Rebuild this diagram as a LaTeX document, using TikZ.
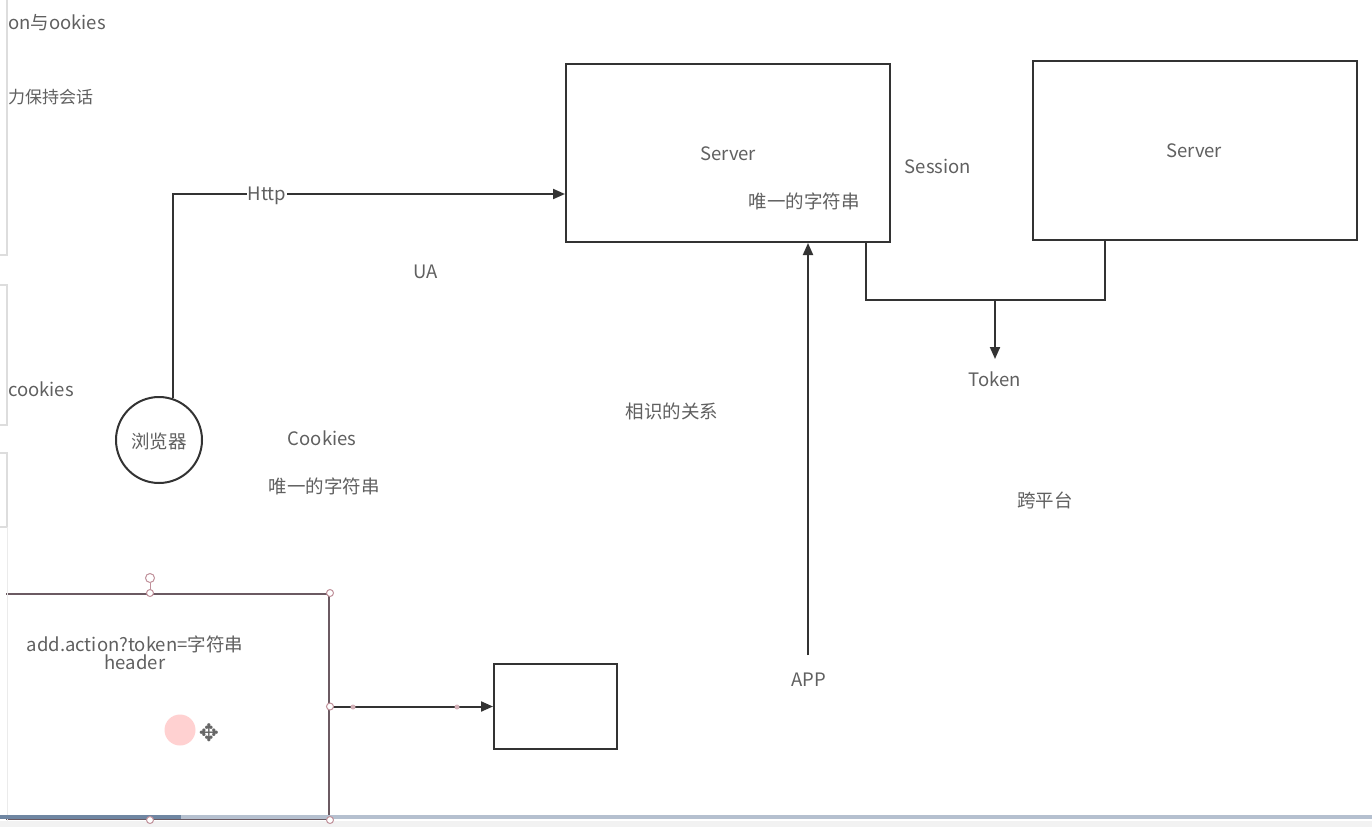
\documentclass[tikz,border=0pt]{standalone}
\usepackage{fontspec}
\setmainfont{Noto Sans CJK SC}
\newfontfamily\symfont{DejaVu Sans}
\usetikzlibrary{arrows.meta}
\definecolor{txt}{HTML}{606060}
\definecolor{ln}{HTML}{333333}
\definecolor{selln}{HTML}{6B5A62}
\definecolor{hdl}{HTML}{C0909A}
\definecolor{faint}{HTML}{DDDDDD}
\definecolor{bardark}{HTML}{6F86A2}
\definecolor{barlight}{HTML}{B5C0CF}
\tikzset{
  lbl/.style={text=txt, font=\fontsize{18.5}{21}\selectfont, inner sep=0pt},
  boxn/.style={draw=ln, line width=2pt, inner sep=0pt},
  conn/.style={draw=ln, line width=2pt},
  arr/.style={conn, -{Triangle[length=12pt,width=10pt]}},
  handle/.style={circle, draw=hdl, fill=white, line width=1pt, inner sep=0pt, minimum size=7pt},
  pdot/.style={circle, fill=hdl!70, inner sep=0pt, minimum size=5pt},
}
\begin{document}
\begin{tikzpicture}[x=1pt,y=-1pt]
\useasboundingbox (0,0) rectangle (1372,827);
\fill[white] (0,0) rectangle (1372,827);
% left texts
\node[lbl, anchor=west] (t1) at (8,23) {on与ookies};
\node[lbl, anchor=west, font=\fontsize{17}{20}\selectfont] (t2) at (8,97) {力保持会话};
\node[lbl, anchor=west] (t3) at (8,389) {cookies};
% servers
\node[boxn, minimum width=324pt, minimum height=178pt] (s1) at (728,153) {};
\node[lbl] (s1t) at (728,154) {Server};
\node[lbl] (s1u) at (804,201) {唯一的字符串};
\node[lbl] (sess) at (938,166) {Session};
\node[boxn, minimum width=324pt, minimum height=179pt] (s2) at (1195,150.5) {};
\node[lbl] (s2t) at (1194,151) {Server};
% token connector
\coordinate (j) at (995,300);
\draw[conn] ([xshift=138pt]s1.south) |- (j) -| ([xshift=-90pt]s2.south);
\node[lbl] (tok) at (995,379) {Token};
\coordinate (tokend) at (995,359);
\draw[arr] (j) -- (tokend);
% browser
\node[circle, draw=ln, line width=2pt, minimum size=86pt, inner sep=0pt] (br) at (159,440) {};
\node[lbl] (brt) at (159,441) {浏览器};
\draw[arr] (br.72) |- ([yshift=-41pt]s1.west);
\node[lbl, fill=white, inner xsep=1pt] (http) at (267,196) {Http};
\node[lbl] (ua) at (426,272) {UA};
\node[lbl] (ck) at (322,438) {Cookies};
\node[lbl] (cku) at (324,486) {唯一的字符串};
\node[lbl] (rel) at (672,411) {相识的关系};
\node[lbl] (kpt) at (1045,500) {跨平台};
% APP
\node[lbl] (app) at (809,680) {APP};
\coordinate (apps) at (808,655);
\draw[arr] (apps) -- (apps |- s1.south);
% bottom-left selected box (partly hidden behind the left panel)
\node[draw=selln, line width=2pt, minimum width=358pt, minimum height=225pt, inner sep=0pt] (lb) at (150,706.5) {};
\fill[white] (0,560) rectangle (6.3,823);
\node[lbl, align=center, font=\fontsize{18.5}{18}\selectfont] (lbt) at (135,653) {add.action?token=字符串\\header};
\node[boxn, minimum width=123pt, minimum height=85pt] (sb) at (555.5,706.5) {};
\draw[arr] (lb.east) -- (sb.west);
\node[pdot] (pd1) at (353,707) {};
\node[pdot] (pd2) at (457,707) {};
% cursor highlight and move icon
\node[circle, fill=red!18, minimum size=31pt, inner sep=0pt] (cur) at (180,730) {};
\node[text=ln!75, font=\symfont\fontsize{24}{24}\selectfont, inner sep=0pt] (mv) at (209,733) {✥};
% faint left panel lines
\draw[faint, line width=1.2pt] (7,0) -- (7,255) -- (0,255);
\draw[faint, line width=1.2pt] (0,285) -- (7,285) -- (7,425) -- (0,425);
\draw[faint, line width=1.2pt] (0,453) -- (7,453) -- (7,527) -- (0,527);
\draw[faint!60, line width=1pt] (7,527) -- (7,827);
% bottom status bar
\fill[barlight] (0,814.5) rectangle (1372,818.5);
\fill[bardark] (0,814.5) rectangle (181,818.5);
\fill[black!5] (0,820.5) rectangle (1372,827);
% selection handles
\node[handle, minimum size=9pt] (rot) at (150,578) {};
\draw[hdl, line width=1pt] (rot) -- (lb.north);
\node[handle] (h1) at (lb.north) {};
\node[handle] (h2) at (lb.north east) {};
\node[handle] (h3) at (lb.east) {};
\node[handle] (h4) at (lb.south east) {};
\node[handle] (h5) at (lb.south) {};
\end{tikzpicture}
\end{document}
